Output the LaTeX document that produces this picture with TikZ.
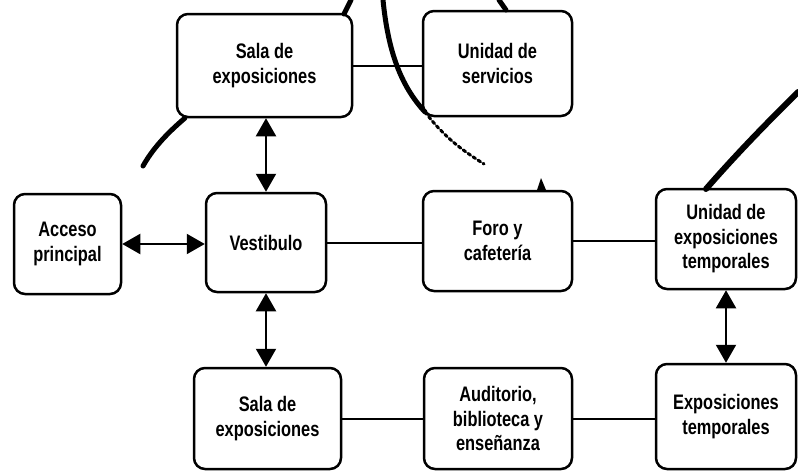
\documentclass[tikz,border=0pt]{standalone}
\usepackage{fontspec}
\setmainfont[FakeStretch=0.78]{Liberation Sans}
\usetikzlibrary{arrows.meta}

\begin{document}
\begin{tikzpicture}[x=1pt,y=-1pt,
  caja/.style={draw,line width=2.5pt,rounded corners=11pt,align=center,inner sep=0pt,
    font=\bfseries\fontsize{21}{24.5}\selectfont},
  flecha/.style={line width=2pt,{Triangle[width=20pt,length=18pt]}-{Triangle[width=20pt,length=18pt]}},
  linea/.style={line width=2pt},
  trazo/.style={line width=5pt,line cap=round}]
\useasboundingbox (0,0) rectangle (798,472);
\node[caja,minimum width=175,minimum height=103] (salaA) at (264.5,65.5) {Sala de\\exposiciones};
\node[caja,minimum width=149,minimum height=105] (servicios) at (497.5,63.5) {Unidad de\\servicios};
\node[caja,minimum width=107,minimum height=100] (acceso) at (67.5,244) {Acceso\\principal};
\node[caja,minimum width=120,minimum height=99] (vestibulo) at (266,242.5) {Vestibulo};
\node[caja,minimum width=149,minimum height=100] (foro) at (497.5,241) {Foro y\\cafetería};
\node[caja,minimum width=140,minimum height=100] (unidadTemp) at (726,239) {Unidad de\\exposiciones\\temporales};
\node[caja,minimum width=147,minimum height=101] (salaB) at (267.5,418.5) {Sala de\\exposiciones};
\node[caja,minimum width=148,minimum height=101] (auditorio) at (498,418.5) {Auditorio,\\biblioteca y\\enseñanza};
\node[caja,minimum width=140,minimum height=105] (expTemp) at (726,416.5) {Exposiciones\\temporales};

\draw[flecha] (vestibulo.north) -- (vestibulo.north |- salaA.south);
\draw[flecha] (acceso.east) -- (acceso.east -| vestibulo.west);
\draw[flecha] (vestibulo.south) -- (vestibulo.south |- salaB.north);
\draw[flecha] (unidadTemp.south) -- (unidadTemp.south |- expTemp.north);
\draw[linea] (salaA.east) -- (salaA.east -| servicios.west);
\draw[linea] (vestibulo.east) -- (vestibulo.east -| foro.west);
\draw[linea] (foro.east) -- (foro.east -| unidadTemp.west);
\draw[linea] (salaB.east) -- (salaB.east -| auditorio.west);
\draw[linea] (auditorio.east) -- (auditorio.east -| expTemp.west);

\draw[trazo] (185,118) .. controls (165,135) and (152,150) .. (143,166);
\draw[trazo] (344,14) -- (351,0);
\draw[trazo] (383,0) .. controls (388,50) and (400,85) .. (425,112);
\draw[line width=3pt,dashed,line cap=round] (425,112) .. controls (445,138) and (462,150) .. (484,164);
\fill (537,190) -- (541,178) -- (546,190) -- cycle;
\draw[trazo] (499,0) -- (506,10);
\draw[line width=6pt,line cap=round] (706,189) .. controls (740,150) and (770,120) .. (798,92);
\end{tikzpicture}
\end{document}
